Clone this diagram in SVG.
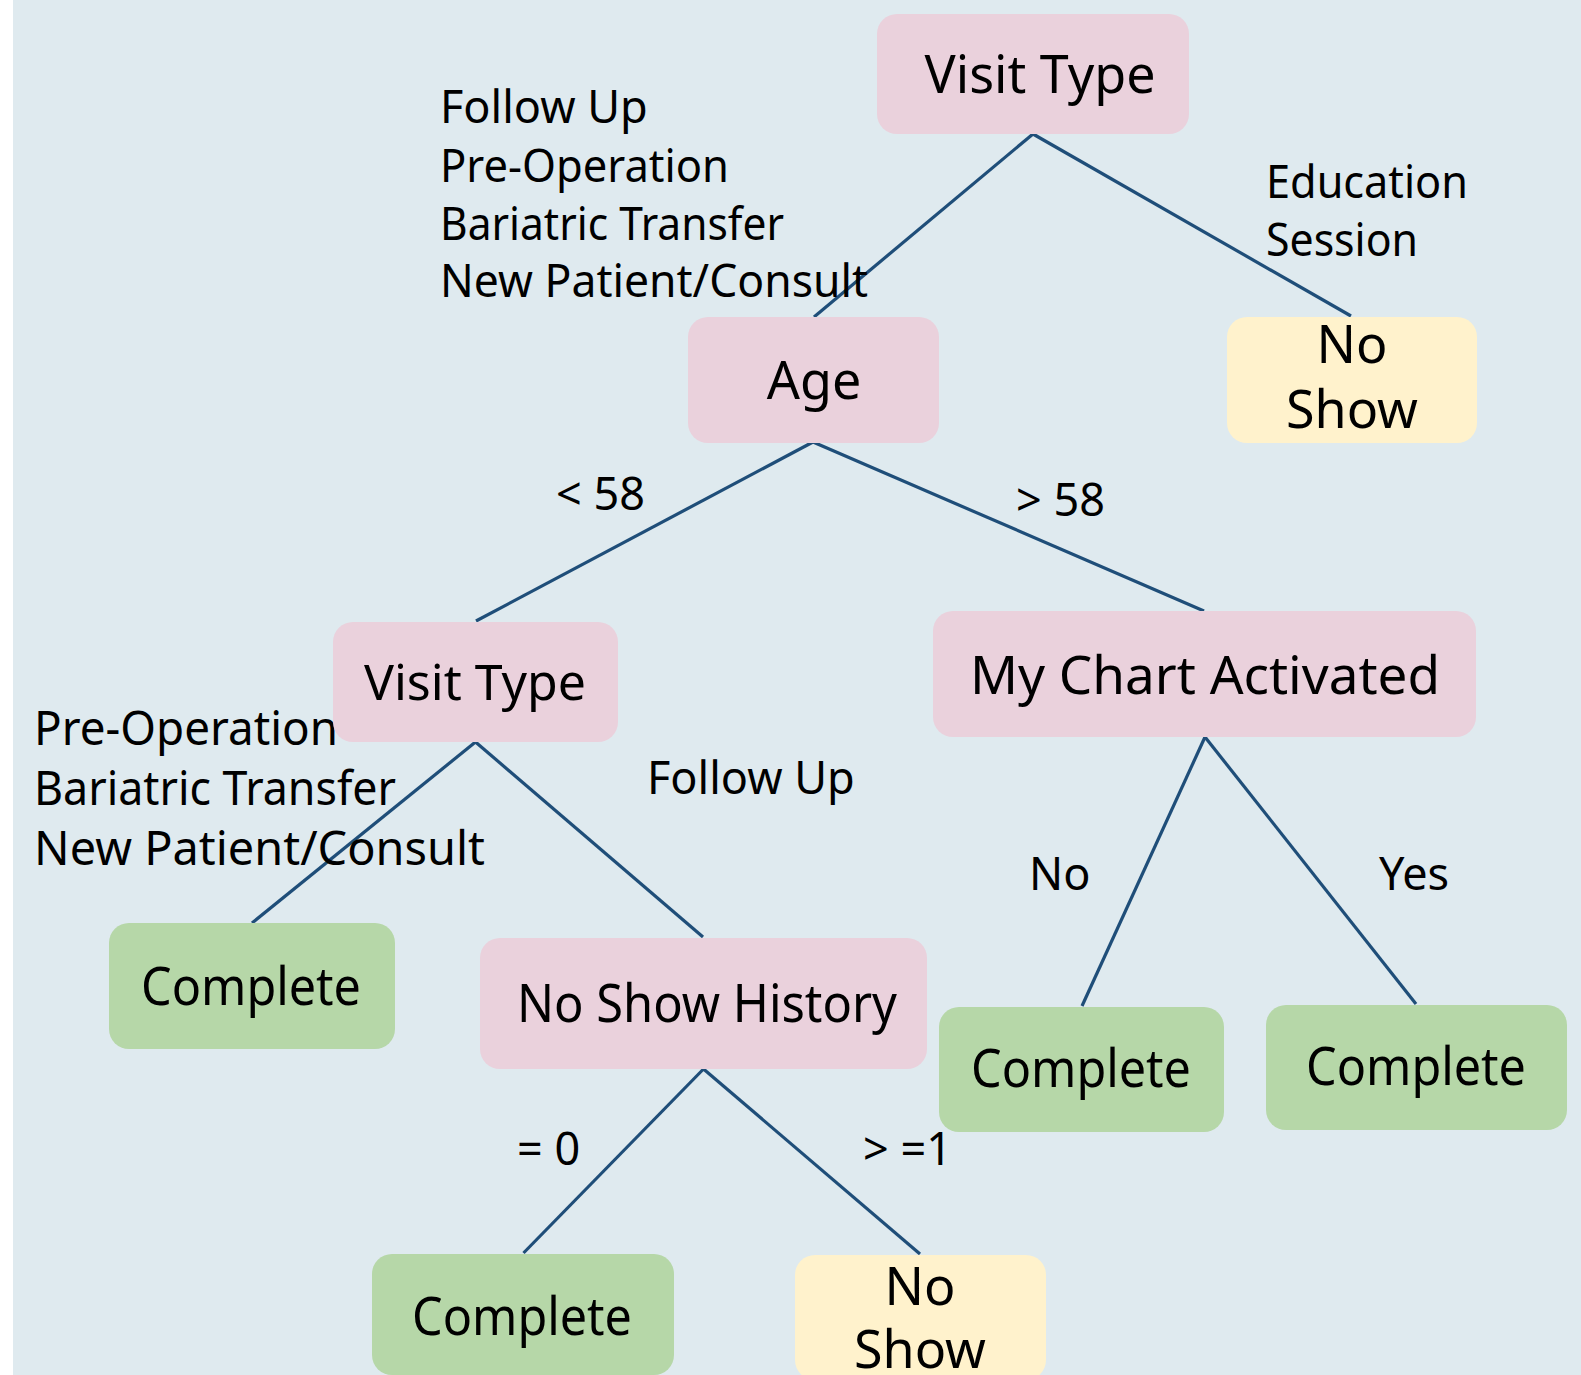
<svg xmlns="http://www.w3.org/2000/svg" width="1581" height="1375" viewBox="0 0 1581 1375">
<style>
.dec{fill:#ead1dc}
.out{fill:#b6d7a8}
.ns{fill:#fff2cc}
.nt{font-family:"Noto Sans","Open Sans","DejaVu Sans",sans-serif;font-size:52px;fill:#000;text-anchor:middle}
.lb{font-family:"Noto Sans","Open Sans","DejaVu Sans",sans-serif;font-size:45px;fill:#000}
.lb2{font-family:"Noto Sans","Open Sans","DejaVu Sans",sans-serif;font-size:47px;fill:#000}
#edges line{stroke:#1f4e79;stroke-width:3.2;stroke-linecap:butt}
</style>
<rect x="0" y="0" width="1581" height="1375" fill="#ffffff"/>
<rect x="13" y="0" width="1568" height="1375" fill="#dfeaef"/>
<g id="edges">
<line x1="1033" y1="134" x2="814" y2="317"/>
<line x1="1033" y1="134" x2="1351" y2="316"/>
<line x1="813" y1="442" x2="476" y2="621"/>
<line x1="813" y1="442" x2="1204" y2="611"/>
<line x1="475.5" y1="742" x2="252" y2="923"/>
<line x1="475.5" y1="742" x2="703" y2="937"/>
<line x1="1205" y1="737" x2="1082" y2="1006"/>
<line x1="1205" y1="737" x2="1416" y2="1004"/>
<line x1="703.5" y1="1069" x2="523.5" y2="1253"/>
<line x1="703.5" y1="1069" x2="920" y2="1254"/>
</g>
<g id="labels">
<text class="lb" x="440" y="123">Follow Up</text>
<text class="lb" x="440" y="182" textLength="289" lengthAdjust="spacingAndGlyphs">Pre-Operation</text>
<text class="lb" x="440" y="240" textLength="344" lengthAdjust="spacingAndGlyphs">Bariatric Transfer</text>
<text class="lb" x="440" y="297" textLength="428" lengthAdjust="spacingAndGlyphs">New Patient/Consult</text>
<text class="lb" x="1266" y="198" textLength="202" lengthAdjust="spacingAndGlyphs">Education</text>
<text class="lb" x="1266" y="256" textLength="152" lengthAdjust="spacingAndGlyphs">Session</text>
<text class="lb" x="556" y="510">&lt; 58</text>
<text class="lb" x="1016" y="516">&gt; 58</text>
<text class="lb2" x="34" y="745" textLength="304" lengthAdjust="spacingAndGlyphs">Pre-Operation</text>
<text class="lb2" x="34" y="805" textLength="362" lengthAdjust="spacingAndGlyphs">Bariatric Transfer</text>
<text class="lb2" x="34" y="865" textLength="451" lengthAdjust="spacingAndGlyphs">New Patient/Consult</text>
<text class="lb" x="647" y="794">Follow Up</text>
<text class="lb" x="1029" y="890">No</text>
<text class="lb" x="1379" y="890">Yes</text>
<text class="lb" x="517" y="1165">= 0</text>
<text class="lb" x="863" y="1165">&gt; =1</text>
</g>
<g id="node-visit-type-root">
<rect class="dec" x="877" y="14" width="312" height="120" rx="20"/>
<text class="nt" x="1040" y="93">Visit Type</text>
</g>
<g id="node-age">
<rect class="dec" x="688" y="317" width="251" height="126" rx="20"/>
<text class="nt" x="814" y="399">Age</text>
</g>
<g id="node-noshow-1">
<rect class="ns" x="1227" y="317" width="250" height="126" rx="20"/>
<text class="nt" x="1352" y="363">No</text>
<text class="nt" x="1352" y="428">Show</text>
</g>
<g id="node-visit-type-2">
<rect class="dec" x="333" y="622" width="285" height="120" rx="20"/>
<text class="nt" x="475" y="700" style="font-size:50px">Visit Type</text>
</g>
<g id="node-mychart">
<rect class="dec" x="933" y="611" width="543" height="126" rx="20"/>
<text class="nt" x="1205" y="694" style="font-size:53px">My Chart Activated</text>
</g>
<g id="node-complete-1">
<rect class="out" x="109" y="923" width="286" height="126" rx="20"/>
<text class="nt" x="251" y="1005" textLength="220" lengthAdjust="spacingAndGlyphs">Complete</text>
</g>
<g id="node-noshow-history">
<rect class="dec" x="480" y="938" width="447" height="131" rx="20"/>
<text class="nt" x="707" y="1022" textLength="380" lengthAdjust="spacingAndGlyphs">No Show History</text>
</g>
<g id="node-complete-2">
<rect class="out" x="939" y="1007" width="285" height="125" rx="20"/>
<text class="nt" x="1081" y="1087" textLength="220" lengthAdjust="spacingAndGlyphs">Complete</text>
</g>
<g id="node-complete-3">
<rect class="out" x="1266" y="1005" width="301" height="125" rx="20"/>
<text class="nt" x="1416" y="1085" textLength="220" lengthAdjust="spacingAndGlyphs">Complete</text>
</g>
<g id="node-complete-4">
<rect class="out" x="372" y="1254" width="302" height="121" rx="20"/>
<text class="nt" x="522" y="1335" textLength="220" lengthAdjust="spacingAndGlyphs">Complete</text>
</g>
<g id="node-noshow-2">
<rect class="ns" x="795" y="1255" width="251" height="125" rx="20"/>
<text class="nt" x="920" y="1305">No</text>
<text class="nt" x="920" y="1368">Show</text>
</g>
</svg>
